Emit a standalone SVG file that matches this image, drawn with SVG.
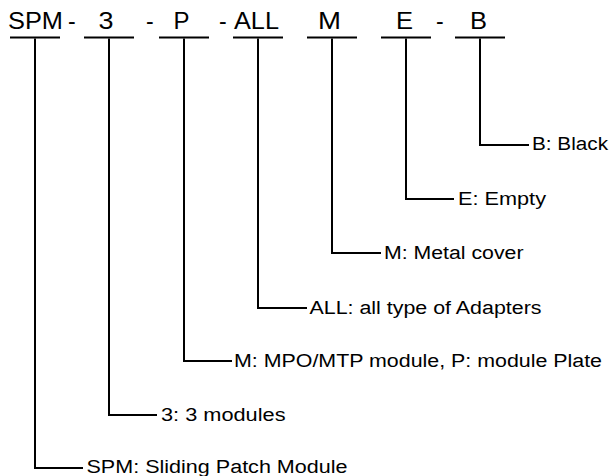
<svg xmlns="http://www.w3.org/2000/svg" width="612" height="476" viewBox="0 0 612 476">
<style>
.code{font-family:"Liberation Sans",Arial,sans-serif;font-size:23px;fill:#000}
.lbl{font-family:"Liberation Sans",Arial,sans-serif;font-size:18px;fill:#000}
.ul{stroke:#000;stroke-width:2;fill:none}
.conn{stroke:#000;stroke-width:2;fill:none}
</style>
<rect width="612" height="476" fill="#fff"/>
<g id="code">
<g id="code-spm"><text class="code" x="8" y="29" textLength="55" lengthAdjust="spacingAndGlyphs">SPM</text><line class="ul" x1="10" y1="37.5" x2="60" y2="37.5"/></g>
<text class="code" x="68" y="29">-</text>
<g id="code-3"><text class="code" x="98.5" y="29" textLength="15" lengthAdjust="spacingAndGlyphs">3</text><line class="ul" x1="84" y1="37.5" x2="134" y2="37.5"/></g>
<text class="code" x="146" y="29">-</text>
<g id="code-p"><text class="code" x="173.5" y="29" textLength="16" lengthAdjust="spacingAndGlyphs">P</text><line class="ul" x1="159" y1="37.5" x2="209" y2="37.5"/></g>
<text class="code" x="219" y="29">-</text>
<g id="code-all"><text class="code" x="234" y="29" textLength="45" lengthAdjust="spacingAndGlyphs">ALL</text><line class="ul" x1="233" y1="37.5" x2="283" y2="37.5"/></g>
<g id="code-m"><text class="code" x="318" y="29" textLength="23" lengthAdjust="spacingAndGlyphs">M</text><line class="ul" x1="307" y1="37.5" x2="357" y2="37.5"/></g>
<g id="code-e"><text class="code" x="396" y="29" textLength="17" lengthAdjust="spacingAndGlyphs">E</text><line class="ul" x1="381" y1="37.5" x2="431" y2="37.5"/></g>
<text class="code" x="436" y="29">-</text>
<g id="code-b"><text class="code" x="470" y="29" textLength="17" lengthAdjust="spacingAndGlyphs">B</text><line class="ul" x1="455" y1="37.5" x2="505" y2="37.5"/></g>
</g>
<g id="connectors">
<path class="conn" d="M35,38.5 V468 H83"/>
<path class="conn" d="M109,38.5 V415 H157"/>
<path class="conn" d="M184,38.5 V361 H232"/>
<path class="conn" d="M258,38.5 V308 H307"/>
<path class="conn" d="M332,38.5 V253 H381"/>
<path class="conn" d="M406,38.5 V199 H454"/>
<path class="conn" d="M480,38.5 V145 H529"/>
</g>
<g id="label-spm"><text class="lbl" x="86.5" y="472.5" textLength="261" lengthAdjust="spacingAndGlyphs">SPM: Sliding Patch Module</text></g>
<g id="label-3"><text class="lbl" x="161" y="420.5" textLength="124.5" lengthAdjust="spacingAndGlyphs">3: 3 modules</text></g>
<g id="label-p"><text class="lbl" x="234" y="366.5" textLength="368" lengthAdjust="spacingAndGlyphs">M: MPO/MTP module, P: module Plate</text></g>
<g id="label-all"><text class="lbl" x="309.5" y="313.5" textLength="232" lengthAdjust="spacingAndGlyphs">ALL: all type of Adapters</text></g>
<g id="label-m"><text class="lbl" x="384" y="258.5" textLength="139.5" lengthAdjust="spacingAndGlyphs">M: Metal cover</text></g>
<g id="label-e"><text class="lbl" x="458" y="205" textLength="88" lengthAdjust="spacingAndGlyphs">E: Empty</text></g>
<g id="label-b"><text class="lbl" x="532" y="150" textLength="76" lengthAdjust="spacingAndGlyphs">B: Black</text></g>
</svg>
